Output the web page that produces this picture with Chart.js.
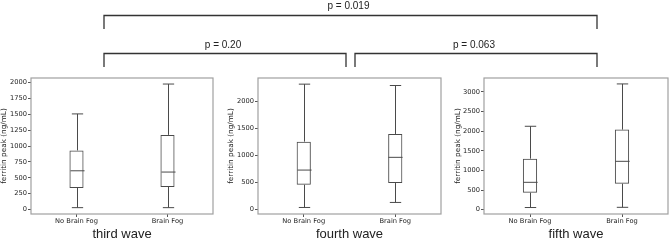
<!DOCTYPE html>
<html>
<head>
<meta charset="utf-8">
<script src="https://cdn.jsdelivr.net/npm/chart.js@4.4.0/dist/chart.umd.min.js"></script>
<style>
  html, body { margin: 0; padding: 0; background: #fff; }
  #wrap { position: relative; width: 669px; height: 240px; overflow: hidden; background: #fff; }
  #wrap canvas { position: absolute; left: 0; top: 0; }
</style>
</head>
<body>
<div id="wrap">
  <canvas id="third" width="669" height="240"></canvas>
  <canvas id="fourth" width="669" height="240"></canvas>
  <canvas id="fifth" width="669" height="240"></canvas>
</div>
<script>
'use strict';

// ---- data ----
const categories = ['No Brain Fog', 'Brain Fog'];
const waveNames = ['third wave', 'fourth wave', 'fifth wave'];
const yTitle = 'ferritin peak (ng/mL)';

const thirdLow = [30, 30];
const thirdQ1 = [340, 355];
const thirdMedian = [610, 590];
const thirdQ3 = [930, 1175];
const thirdHigh = [1505, 1975];

const fourthLow = [31, 124];
const fourthQ1 = [452, 483];
const fourthMedian = [724, 960];
const fourthQ3 = [1251, 1393];
const fourthHigh = [2316, 2291];

const fifthLow = [55, 60];
const fifthQ1 = [433, 663];
const fifthMedian = [697, 1232];
const fifthQ3 = [1300, 2040];
const fifthHigh = [2125, 3204];

// y tick labels per panel
const thirdTicks = [0, 250, 500, 750, 1000, 1250, 1500, 1750, 2000];
const fourthTicks = [0, 500, 1000, 1500, 2000];
const fifthTicks = [0, 500, 1000, 1500, 2000, 2500, 3000];

// comparison labels: third-fourth, fourth-fifth, third-fifth
const pLabels = ['p = 0.20', 'p = 0.063', 'p = 0.019'];

// ---- layout ----
const W = 669, H = 240;
const areaTop = 78, areaBottom = 214;
const panelLayout = [
    { left: 31, right: 213, axisWidth: 31, min: -70, max: 2070 },
    { left: 258, right: 441, axisWidth: 31, min: -90, max: 2430 },
    { left: 484, right: 668, axisWidth: 30, min: -110, max: 3355 }
];
const lineColor = '#4a4a4a';
const frameColor = '#a0a0a0';
const textColor = '#222';

const panelStats = [
    { low: thirdLow, q1: thirdQ1, median: thirdMedian, q3: thirdQ3, high: thirdHigh, ticks: thirdTicks },
    { low: fourthLow, q1: fourthQ1, median: fourthMedian, q3: fourthQ3, high: fourthHigh, ticks: fourthTicks },
    { low: fifthLow, q1: fifthQ1, median: fifthMedian, q3: fifthQ3, high: fifthHigh, ticks: fifthTicks }
];

/**
 * Whiskers, caps and median line, placed with the chart's own scales
 */
const whiskerPlugin = {
    id: 'whiskers',
    afterDatasetsDraw: function (chart, args, opts) {
        const ctx = chart.ctx;
        const y = chart.scales.y;
        const meta = chart.getDatasetMeta(0);
        ctx.save();
        ctx.strokeStyle = lineColor;
        ctx.lineWidth = 1;
        meta.data.forEach((bar, i) => {
            const cx = Math.round(bar.x) + 0.5;
            const half = bar.width / 2;
            const cap = half * 0.8;
            const yLow = y.getPixelForValue(opts.low[i]);
            const yQ1 = y.getPixelForValue(opts.q1[i]);
            const yMed = y.getPixelForValue(opts.median[i]);
            const yQ3 = y.getPixelForValue(opts.q3[i]);
            const yHigh = y.getPixelForValue(opts.high[i]);
            ctx.beginPath();
            ctx.moveTo(cx, yQ1); ctx.lineTo(cx, yLow);
            ctx.moveTo(cx, yQ3); ctx.lineTo(cx, yHigh);
            ctx.moveTo(cx - cap, yLow); ctx.lineTo(cx + cap, yLow);
            ctx.moveTo(cx - cap, yHigh); ctx.lineTo(cx + cap, yHigh);
            ctx.moveTo(cx - half, yMed); ctx.lineTo(cx + half, yMed);
            ctx.stroke();
        });
        ctx.restore();
    }
};

// box around the plotting area
const framePlugin = {
    id: 'frame',
    afterDraw: function (chart) {
        const a = chart.chartArea;
        const ctx = chart.ctx;
        ctx.save();
        ctx.strokeStyle = frameColor;
        ctx.lineWidth = 1.2;
        ctx.strokeRect(a.left, a.top, a.right - a.left, a.bottom - a.top);
        ctx.restore();
    }
};

// significance brackets above the three panels
const bracketPlugin = {
    id: 'brackets',
    afterDraw: function (chart, args, opts) {
        const ctx = chart.ctx;
        ctx.save();
        ctx.strokeStyle = '#333';
        ctx.lineWidth = 1.3;
        ctx.fillStyle = textColor;
        ctx.font = '10px "Liberation Sans", Arial, sans-serif';
        ctx.textAlign = 'center';
        ctx.textBaseline = 'middle';
        opts.items.forEach((b) => {
            ctx.beginPath();
            ctx.moveTo(b.x0, b.drop);
            ctx.lineTo(b.x0, b.y);
            ctx.lineTo(b.x1, b.y);
            ctx.lineTo(b.x1, b.drop);
            ctx.stroke();
            ctx.fillText(b.label, (b.x0 + b.x1) / 2 - 2, b.textY);
        });
        ctx.restore();
    }
};

function makePanel(canvasId, index) {
    const lay = panelLayout[index];
    const st = panelStats[index];
    const plugins = [whiskerPlugin, framePlugin];
    if (index === 0) plugins.push(bracketPlugin);

    return new Chart(document.getElementById(canvasId), {
        type: 'bar',
        data: {
            labels: categories,
            datasets: [{
                data: st.q1.map((q, i) => [q, st.q3[i]]),
                backgroundColor: 'rgba(0,0,0,0)',
                borderColor: lineColor,
                borderWidth: 1,
                borderSkipped: false,
                barPercentage: 0.155,
                categoryPercentage: 1
            }]
        },
        options: {
            responsive: false,
            animation: false,
            events: [],
            layout: {
                padding: {
                    left: lay.left - lay.axisWidth,
                    right: W - lay.right,
                    top: areaTop,
                    bottom: 0
                }
            },
            plugins: {
                legend: { display: false },
                tooltip: { enabled: false },
                whiskers: st,
                brackets: {
                    items: [
                        { x0: 104, x1: 346, y: 53.5, drop: 67, textY: 45.5, label: pLabels[0] },
                        { x0: 355, x1: 597, y: 53.5, drop: 67, textY: 45.5, label: pLabels[1] },
                        { x0: 104, x1: 597, y: 15.5, drop: 29, textY: 6.5, label: pLabels[2] }
                    ]
                }
            },
            scales: {
                x: {
                    offset: true,
                    grid: { drawOnChartArea: false, drawTicks: true, tickLength: 3, offset: false, color: '#555' },
                    border: { display: false },
                    ticks: {
                        font: { family: 'DejaVu Sans', size: 6.7 },
                        color: textColor,
                        padding: 0,
                        maxRotation: 0,
                        autoSkip: false
                    },
                    title: {
                        display: true,
                        text: waveNames[index],
                        font: { family: 'Liberation Sans', size: 13, lineHeight: 0.85 },
                        color: textColor,
                        padding: 0
                    },
                    afterFit: function (scale) { scale.height = H - areaBottom; }
                },
                y: {
                    min: lay.min,
                    max: lay.max,
                    grid: { drawOnChartArea: false, drawTicks: true, tickLength: 3, color: '#555' },
                    border: { display: false },
                    ticks: {
                        font: { family: 'DejaVu Sans', size: 6.7 },
                        color: textColor,
                        padding: 1,
                        callback: function (value) { return String(value); }
                    },
                    afterBuildTicks: function (scale) {
                        scale.ticks = st.ticks.map((v) => ({ value: v }));
                    },
                    title: {
                        display: true,
                        text: yTitle,
                        font: { family: 'DejaVu Sans', size: 7.3 },
                        color: textColor,
                        padding: 0
                    },
                    afterFit: function (scale) { scale.width = lay.axisWidth; }
                }
            }
        },
        plugins: plugins
    });
}

makePanel('third', 0);
makePanel('fourth', 1);
makePanel('fifth', 2);
</script>
</body>
</html>
